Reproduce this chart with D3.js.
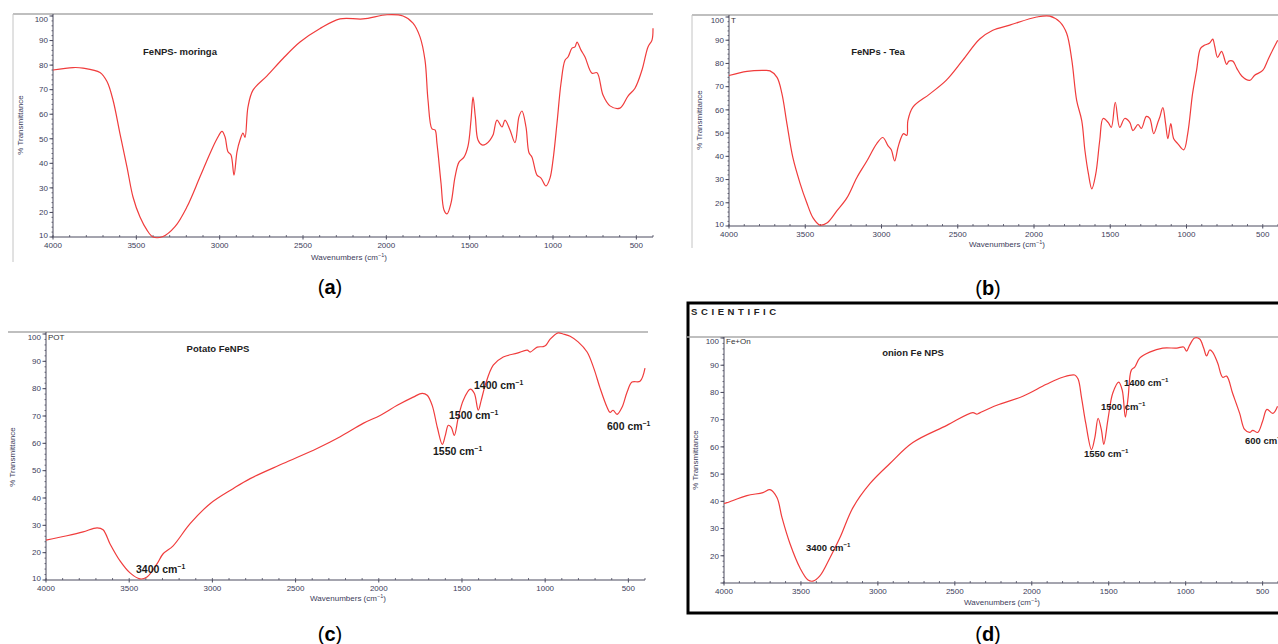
<!DOCTYPE html>
<html>
<head>
<meta charset="utf-8">
<script src="https://cdn.jsdelivr.net/npm/d3@7.9.0/dist/d3.min.js"></script>
<style>
  body { margin: 0; background: #fff; }
  svg { display: block; }
  text { font-family: Arial, "Liberation Sans", sans-serif; }
</style>
</head>
<body>
<svg id="fig" width="1278" height="644"></svg>
<script>
// --- spectra (wavenumber in cm-1, % transmittance) ---
const waveA = [4000,3880,3820,3718,3676,3640,3598,3556,3520,3478,3436,3400,3340,3268,3196,3118,3058,3016,2986,2968,2950,2932,2914,2896,2878,2860,2848,2830,2800,2716,2620,2518,2400,2278,2140,1996,1900,1840,1798,1768,1750,1726,1708,1696,1672,1654,1636,1612,1588,1564,1534,1510,1492,1480,1466,1450,1426,1402,1378,1360,1336,1306,1288,1258,1228,1204,1186,1162,1144,1126,1096,1072,1042,1018,1000,976,952,928,910,886,868,856,832,808,766,736,700,658,598,550,508,466,430,406,400];
const transA = [78,79,78.8,77,73.3,65.8,52,38.5,26.3,18.1,12.8,10,10.2,14.2,22.3,34.5,44,50,53,50.8,44.7,43.4,35.2,44.7,49.5,52.3,50.6,63,69.8,75.6,82.7,89.4,94.8,98.8,98.8,100.5,100,97.1,91.5,82,65.8,54,53.6,48,32,21,19.4,23.8,34.4,40.5,42.5,47,57.6,67,58.9,49.5,47.5,47.9,49.5,51.5,57.6,54.8,57.6,53.6,48.4,59,61.3,54.8,44.3,42.5,35.2,34,30.8,34,41.3,56.4,72.6,82,83.3,86.9,87.4,89.4,86.1,83.3,76.7,76.9,67.8,63.4,62.5,67.4,70.6,78,87.4,90.2,95];

const waveB = [4000,3882,3777,3731,3685,3653,3620,3581,3535,3490,3449,3404,3358,3293,3227,3162,3096,3031,2991,2958,2936,2914,2892,2871,2856,2834,2827,2794,2685,2576,2467,2356,2270,2159,1982,1897,1831,1786,1752,1720,1687,1666,1643,1621,1595,1569,1547,1514,1493,1467,1438,1405,1372,1351,1318,1296,1263,1241,1215,1188,1176,1155,1137,1122,1103,1084,1058,1018,992,960,934,908,880,848,828,815,796,770,737,722,696,671,638,585,553,500,467,435,402];
const transB = [74.8,76.6,77,76.8,74,67,54,39.4,28.6,20,13.5,10.4,11.3,16.5,22.1,30.8,38,45.5,48.1,44.6,42.8,38,43.8,48.1,49.8,49,55.4,61.2,66.8,72.7,81.4,90.5,94.3,96.5,100,100.4,97.9,93,81.4,64,55.4,42.5,32.4,26,32.4,46.8,56.3,54.6,52.5,63.3,52.5,56.3,54.6,51.1,53.7,52,57.2,56.3,49.8,54.6,56.7,61,54,47.6,54.1,47.6,45.5,42.8,49.8,67.1,77,86.5,87.9,88.8,90.5,87.4,82.6,85.2,79.6,81,81,78,74.6,72.7,74.9,77,81.4,85.8,90];

const waveC = [4000,3874,3777,3693,3657,3615,3555,3495,3435,3393,3333,3296,3236,3134,3014,2876,2773,2575,2371,2232,2094,1992,1889,1793,1739,1709,1679,1648,1618,1600,1582,1564,1546,1522,1492,1450,1426,1402,1384,1360,1312,1252,1168,1108,1090,1048,1012,994,970,922,892,850,802,748,708,670,628,610,592,568,538,508,478,430,400];
const transC = [24.6,26.2,27.6,29.1,28.4,23.2,17,12.6,10.4,11.1,15.9,19.6,22.5,30.6,37.9,43.4,47.1,52.6,58.1,62.4,67.3,70.2,73.9,76.9,78.3,77.6,73.9,65.8,59.6,62.9,66.6,65.8,62.9,69.5,75.8,79.8,78.3,72.1,75.8,81.3,88.6,91.6,93,94.1,93.4,95.2,95.4,96,98.1,100.4,100,99.2,97.1,93.4,87.5,80.2,73.2,71.3,72.1,70.6,73.2,78.7,82.4,82.7,87.5];

const waveD = [4000,3981,3851,3747,3701,3656,3623,3571,3506,3454,3422,3377,3312,3247,3162,3052,2922,2773,2552,2383,2357,2338,2227,2058,1905,1799,1721,1699,1677,1649,1612,1590,1569,1547,1532,1504,1474,1435,1412,1392,1374,1353,1331,1299,1234,1149,1058,1013,994,974,942,909,883,864,844,825,792,760,734,695,649,617,584,564,532,500,472,433,403];
const transD = [39.2,39.5,42.1,43.2,44.3,41.4,34,24.4,15.5,11.1,10.7,12.6,19.2,26.6,37.7,46.5,53.9,61.6,67.9,72.6,72,72.5,75.3,78.6,83,85.6,86.4,84.9,78.2,68.6,59,63.5,70.5,66.1,60.9,70.5,79.7,83.8,80.8,70.9,78.2,88.2,89.3,92.6,94.8,96.3,96.3,96.7,95.2,97.4,100,99.6,96.3,93.4,95.6,94.8,90.8,85.6,86,79.7,72.3,66.4,65.3,66.1,65.3,69.4,73.8,72.3,74.9];

// --- axis ticks and labels ---
const yTicksFull = [10,20,30,40,50,60,70,80,90,100];
const yTicksNoTen = [20,30,40,50,60,70,80,90,100];
const xTicks = [4000,3500,3000,2500,2000,1500,1000,500];
const titles = ['FeNPS- moringa', 'FeNPs - Tea', 'Potato FeNPS', 'onion Fe NPS'];
const tags = ['', 'T', 'POT', 'Fe+On'];
const peakLabels = ['3400', '1550', '1500', '1400', '600'];

// --- layout of the four panels (pixels) ---
const panels = [
  { wn: waveA, t: transA, yt: yTicksFull, title: titles[0], tag: tags[0], letter: 'a',
    x0: 53, x400: 653, axisY: 237, top100: 16, frame: { l: 13, t: 14, r: 653, b: 262, side: true },
    titleX: 180, titleY: 55, yLab: [20, 125], xLab: [349, 260], letterPos: [330, 294], notes: [], noteSize: 10 },
  { wn: waveB, t: transB, yt: yTicksFull, title: titles[1], tag: tags[1], letter: 'b',
    x0: 729, x400: 1278, axisY: 226, top100: 17, frame: { l: 692, t: 15, r: 1278, b: 248, side: true },
    titleX: 878, titleY: 55, yLab: [699, 120], xLab: [1007, 247], letterPos: [988, 295], notes: [], noteSize: 10 },
  { wn: waveC, t: transC, yt: yTicksFull, title: titles[2], tag: tags[2], letter: 'c',
    x0: 46, x400: 645, axisY: 580, top100: 334, frame: { l: 8, t: 332, r: 648, b: 610, side: false },
    titleX: 218, titleY: 352, yLab: [12, 457], xLab: [348, 601], letterPos: [330, 641],
    notes: [[136, 573], [433, 455], [449, 419], [474, 389], [607, 430]], noteSize: 10.5 },
  { wn: waveD, t: transD, yt: yTicksNoTen, title: titles[3], tag: tags[3], letter: 'd',
    x0: 724, x400: 1278, axisY: 583, top100: 338, frame: { l: 687, t: 337, r: 1278, b: 583, side: false },
    titleX: 913, titleY: 356, yLab: [695, 460], xLab: [1002, 605], letterPos: [988, 641],
    notes: [[806, 551], [1084, 457], [1101, 410], [1124, 386], [1245, 444]], noteSize: 9.5 }
];

const svg = d3.select('#fig');
svg.append('rect').attr('width', 1278).attr('height', 644).attr('fill', '#fff');

// black box round panel (d) and the instrument header
svg.append('rect')
  .attr('x', 688).attr('y', 303).attr('width', 600).attr('height', 310)
  .attr('fill', 'none').attr('stroke', '#000').attr('stroke-width', 3);
svg.append('text')
  .attr('x', 691).attr('y', 315)
  .attr('font-size', 9.5).attr('font-weight', 'bold')
  .attr('letter-spacing', 3.6).attr('fill', '#222')
  .text('SCIENTIFIC');

const axisColor = '#4a4a5e';
const labelColor = '#3c3c5a';

function drawPanel(p) {
  const g = svg.append('g');
  const x = d3.scaleLinear().domain([4000, 400]).range([p.x0, p.x400]);
  const y = d3.scaleLinear().domain([10, 100]).range([p.axisY, p.top100]);

  // gray frame
  g.append('line')
    .attr('x1', p.frame.l).attr('x2', p.frame.r).attr('y1', p.frame.t).attr('y2', p.frame.t)
    .attr('stroke', '#aaa').attr('stroke-width', 1.5);
  if (p.frame.side) {
    g.append('line')
      .attr('x1', p.frame.l).attr('x2', p.frame.l).attr('y1', p.frame.t).attr('y2', p.frame.b)
      .attr('stroke', '#c4c4c4').attr('stroke-width', 1);
  }

  // axis lines
  g.append('line')
    .attr('x1', p.x0).attr('x2', Math.min(p.x400, 1278)).attr('y1', p.axisY).attr('y2', p.axisY)
    .attr('stroke', axisColor).attr('stroke-width', 1);
  g.append('line')
    .attr('x1', p.x0).attr('x2', p.x0).attr('y1', p.axisY).attr('y2', p.frame.t)
    .attr('stroke', axisColor).attr('stroke-width', 1);

  // y minor / major ticks
  const yMinor = d3.range(10, 101, 2);
  g.selectAll('.ym').data(yMinor).join('line')
    .attr('x1', p.x0 - 1.5).attr('x2', p.x0)
    .attr('y1', d => y(d)).attr('y2', d => y(d))
    .attr('stroke', axisColor).attr('stroke-width', 0.8);
  g.selectAll('.yM').data(yTicksFull).join('line')
    .attr('x1', p.x0 - 3.5).attr('x2', p.x0)
    .attr('y1', d => y(d)).attr('y2', d => y(d))
    .attr('stroke', axisColor).attr('stroke-width', 1);
  g.selectAll('.yl').data(p.yt).join('text')
    .attr('x', p.x0 - 5)
    .attr('y', d => y(d) + (d === 100 ? 3 : d === 10 ? -2 : 0))
    .attr('dy', '0.35em')
    .attr('text-anchor', 'end')
    .attr('font-size', 8).attr('fill', labelColor)
    .text(d => d);

  // x minor / major ticks
  const xMinor = d3.range(4000, 399, -100);
  g.selectAll('.xm').data(xMinor).join('line')
    .attr('x1', d => x(d)).attr('x2', d => x(d))
    .attr('y1', p.axisY).attr('y2', p.axisY - 2)
    .attr('stroke', axisColor).attr('stroke-width', 0.8);
  g.selectAll('.xM').data(xTicks).join('line')
    .attr('x1', d => x(d)).attr('x2', d => x(d))
    .attr('y1', p.axisY).attr('y2', p.axisY + 2.5)
    .attr('stroke', axisColor).attr('stroke-width', 1);
  g.selectAll('.xl').data(xTicks).join('text')
    .attr('x', d => x(d)).attr('y', p.axisY + 11)
    .attr('text-anchor', 'middle')
    .attr('font-size', 8).attr('fill', labelColor)
    .text(d => d);

  // axis titles
  g.append('text')
    .attr('transform', `translate(${p.yLab[0]},${p.yLab[1]}) rotate(-90)`)
    .attr('text-anchor', 'middle').attr('dy', '0.35em')
    .attr('font-size', 8).attr('fill', labelColor)
    .text('% Transmittance');
  const xl = g.append('text')
    .attr('x', p.xLab[0]).attr('y', p.xLab[1])
    .attr('text-anchor', 'middle')
    .attr('font-size', 8).attr('fill', labelColor);
  xl.append('tspan').text('Wavenumbers (cm');
  xl.append('tspan').attr('font-size', 5.5).attr('dy', -3).text('−1');
  xl.append('tspan').attr('dy', 3).text(')');

  // spectrum
  const line = d3.line()
    .x((d, i) => x(p.wn[i]))
    .y(d => y(d))
    .curve(d3.curveCatmullRom.alpha(0.5));
  g.append('path')
    .attr('d', line(p.t))
    .attr('fill', 'none')
    .attr('stroke', '#f03c3c')
    .attr('stroke-width', 1.2);

  // sample title and instrument tag
  g.append('text')
    .attr('x', p.titleX).attr('y', p.titleY)
    .attr('text-anchor', 'middle')
    .attr('font-family', '"Open Sans", sans-serif')
    .attr('font-size', 9.5).attr('font-weight', 'bold').attr('fill', '#222')
    .text(p.title);
  if (p.tag) {
    g.append('text')
      .attr('x', p.x0 + 2).attr('y', p.top100 + 6)
      .attr('font-size', 8).attr('fill', '#333')
      .text(p.tag);
  }

  // peak annotations
  p.notes.forEach((pos, i) => {
    const t = g.append('text')
      .attr('x', pos[0]).attr('y', pos[1])
      .attr('font-family', '"Open Sans", sans-serif')
      .attr('font-size', p.noteSize).attr('font-weight', 'bold').attr('fill', '#1a1a1a');
    t.append('tspan').text(peakLabels[i] + ' cm');
    t.append('tspan').attr('font-size', p.noteSize * 0.65).attr('dy', -4).text('−1');
  });

  // panel letter
  const lt = g.append('text')
    .attr('x', p.letterPos[0]).attr('y', p.letterPos[1])
    .attr('text-anchor', 'middle')
    .attr('font-family', '"Liberation Serif", "DejaVu Serif", serif')
    .attr('font-size', 20).attr('fill', '#000');
  lt.append('tspan').text('(');
  lt.append('tspan').attr('font-weight', 'bold').text(p.letter);
  lt.append('tspan').text(')');
}

panels.forEach(drawPanel);
</script>
</body>
</html>
